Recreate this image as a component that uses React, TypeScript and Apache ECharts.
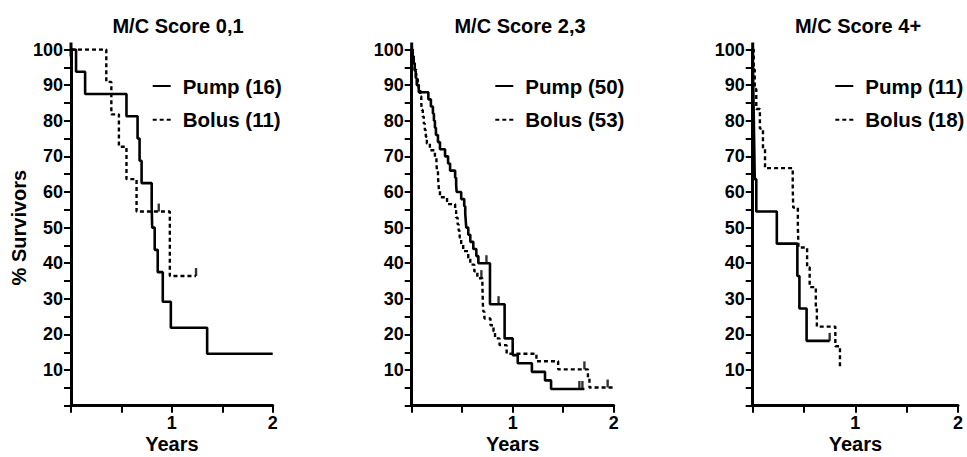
import React, { useEffect, useRef } from "react";
import * as echarts from "echarts";

// ---- data ----
const titles = ["M/C Score 0,1", "M/C Score 2,3", "M/C Score 4+"];
const pumpNames = ["Pump (16)", "Pump (50)", "Pump (11)"];
const bolusNames = ["Bolus (11)", "Bolus (53)", "Bolus (18)"];
const xLabelValues = [1, 2];
const yLabelStep = 10;

const pump1 = [[0, 100], [0.05, 93.75], [0.14, 87.5], [0.55, 81.25], [0.66, 75], [0.68, 68.75], [0.7, 62.5], [0.8, 56.25], [0.805, 50], [0.83, 43.75], [0.86, 37.5], [0.91, 29.2], [0.99, 21.9], [1.35, 14.6], [2.0, 14.6]];
const bolus1 = [[0, 100], [0.35, 90.9], [0.4, 81.8], [0.475, 72.7], [0.55, 63.6], [0.65, 54.5], [0.98, 36.4], [1.24, 36.4]];

const pump2 = [[0, 100], [0.01, 98], [0.02, 96], [0.03, 94], [0.04, 92], [0.05, 90], [0.07, 88], [0.165, 86], [0.19, 84], [0.21, 82], [0.22, 80], [0.23, 78], [0.24, 76], [0.26, 74], [0.28, 72], [0.33, 70], [0.36, 68], [0.38, 66], [0.43, 64], [0.44, 62], [0.445, 60], [0.49, 58], [0.52, 56], [0.53, 54], [0.535, 52], [0.54, 50], [0.56, 48], [0.58, 46], [0.61, 44], [0.64, 42], [0.66, 40], [0.775, 28.5], [0.92, 18.9], [1.0, 14.2], [1.05, 11.9], [1.19, 9.5], [1.32, 7.1], [1.38, 4.7], [1.71, 4.7]];
const bolus2 = [[0, 100], [0.01, 98.1], [0.02, 96.2], [0.03, 94.3], [0.045, 92.5], [0.06, 90.6], [0.07, 88.7], [0.085, 86.8], [0.095, 84.9], [0.1, 83], [0.11, 81.1], [0.12, 79.2], [0.13, 77.4], [0.14, 75.5], [0.15, 73.6], [0.18, 71.7], [0.23, 69.8], [0.245, 67.9], [0.25, 66], [0.26, 64.2], [0.265, 62.3], [0.27, 60.4], [0.28, 58.5], [0.35, 56.6], [0.43, 54.7], [0.44, 52.8], [0.455, 50.9], [0.465, 49.1], [0.475, 47.2], [0.49, 45.3], [0.51, 43.4], [0.56, 41.5], [0.58, 39.6], [0.62, 37.7], [0.65, 35.8], [0.7, 33.9], [0.705, 28.3], [0.71, 26.4], [0.72, 24.5], [0.78, 22.6], [0.81, 20.8], [0.825, 18.9], [0.87, 17], [0.94, 14.6], [1.235, 12.5], [1.45, 10.2], [1.745, 7.6], [1.76, 5.1], [2.0, 5.1]];

const pump3 = [[0, 100], [0.005, 90.9], [0.01, 81.8], [0.015, 72.7], [0.02, 63.6], [0.035, 54.5], [0.235, 45.5], [0.435, 36.4], [0.455, 27.3], [0.525, 18.2], [0.75, 18.2]];
const bolus3 = [[0, 100], [0.01, 94.4], [0.02, 88.9], [0.035, 83.3], [0.07, 77.8], [0.1, 72.2], [0.12, 66.7], [0.39, 61.1], [0.395, 55.6], [0.44, 50], [0.446, 44.4], [0.53, 38.9], [0.555, 33.3], [0.615, 27.8], [0.625, 22.2], [0.805, 16.7], [0.85, 11.1]];

const censor1Bolus = [[0.87, 54.5], [1.24, 36.4]];
const censor2Pump = [[0.74, 40], [0.86, 28.5], [1.66, 4.7], [1.69, 4.7]];
const censor2Bolus = [[0.69, 35.8], [1.71, 10.2], [1.94, 5.1]];
const censor3Pump = [[0.75, 18.2]];

const pumps = [pump1, pump2, pump3];
const boluses = [bolus1, bolus2, bolus3];
const censors = [
  [censor1Bolus],
  [censor2Pump, censor2Bolus],
  [censor3Pump],
];

// ---- layout ----
const FONT = "'Liberation Sans', Arial, Helvetica, sans-serif";
const gridLefts = [71, 411.7, 752.7];
const gridWidths = [201.7, 202, 205.3];
const titleCenters = [178, 520, 858];
const legendLefts = [151.7, 494.3, 834.3];

export default function App() {
  const ref = useRef<HTMLDivElement>(null);

  useEffect(() => {
    document.body.style.margin = "0";
    const chart = echarts.init(ref.current!, null, { renderer: "svg" });

    const grid = gridLefts.map((l, i) => ({
      left: l,
      top: 49.5,
      width: gridWidths[i],
      height: 356.2,
      containLabel: false,
      outerBoundsMode: "none",
    }));

    const xAxis = gridLefts.map((_, i) => ({
      type: "value",
      gridIndex: i,
      min: 0,
      max: 2,
      interval: 0.5,
      name: "Years",
      nameLocation: "middle",
      nameGap: 28,
      nameMoveOverlap: false,
      nameTextStyle: { fontSize: 20, lineHeight: 20, fontWeight: "bold", color: "#000", fontFamily: FONT },
      axisLine: { show: true, lineStyle: { color: "#000", width: 3 } },
      axisTick: { show: true, length: 7, lineStyle: { color: "#000", width: 2 } },
      axisLabel: {
        margin: 9,
        fontSize: 18,
        lineHeight: 16,
        fontWeight: "bold",
        color: "#000",
        fontFamily: FONT,
        formatter: (v: number) => (xLabelValues.includes(v) ? String(v) : ""),
      },
      splitLine: { show: false },
    }));

    const yAxis = gridLefts.map((_, i) => ({
      type: "value",
      gridIndex: i,
      min: 0,
      max: 100,
      interval: 5,
      name: i === 0 ? "% Survivors" : "",
      nameLocation: "middle",
      nameGap: 42,
      nameMoveOverlap: false,
      nameTextStyle: { fontSize: 20, fontWeight: "bold", color: "#000", fontFamily: FONT },
      axisLine: {
        show: true,
        lineStyle: { color: "#000", width: 3 },
        symbol: ["none", "rect"],
        symbolSize: [3, 14],
      },
      axisTick: { show: true, length: 7, lineStyle: { color: "#000", width: 2 } },
      axisLabel: {
        margin: 8,
        fontSize: 18,
        fontWeight: "bold",
        color: "#000",
        fontFamily: FONT,
        formatter: (v: number) => (v > 0 && v % yLabelStep === 0 ? String(v) : ""),
      },
      splitLine: { show: false },
    }));

    const series: any[] = [];
    for (let i = 0; i < 3; i++) {
      series.push({
        name: pumpNames[i],
        type: "line",
        xAxisIndex: i,
        yAxisIndex: i,
        step: "end",
        symbol: "none",
        data: pumps[i],
        lineStyle: { color: "#000", width: 2.6, type: "solid" },
        itemStyle: { color: "#000" },
      });
      series.push({
        name: bolusNames[i],
        type: "line",
        xAxisIndex: i,
        yAxisIndex: i,
        step: "end",
        symbol: "none",
        data: boluses[i],
        lineStyle: { color: "#000", width: 2.4, type: [4, 3] },
        itemStyle: { color: "#000" },
      });
      censors[i].forEach((c, k) => {
        series.push({
          name: "censor-" + i + "-" + k,
          type: "scatter",
          xAxisIndex: i,
          yAxisIndex: i,
          symbol: "rect",
          symbolSize: [2.4, 8],
          symbolOffset: [0, -4],
          data: c,
          itemStyle: { color: "#000" },
          silent: true,
        });
      });
    }

    const option = {
      animation: false,
      backgroundColor: "#fff",
      textStyle: { fontFamily: FONT },
      title: titles.map((t, i) => ({
        text: t,
        left: titleCenters[i],
        top: 16,
        padding: 0,
        textAlign: "center",
        textStyle: { fontSize: 20, fontWeight: "bold", color: "#000", fontFamily: FONT },
      })),
      legend: legendLefts.map((l, i) => ({
        data: [pumpNames[i], bolusNames[i]],
        orient: "vertical",
        left: l,
        top: 75.5,
        padding: 0,
        itemWidth: 18,
        itemHeight: 14,
        itemGap: 12.8,
        selectedMode: false,
        itemStyle: { opacity: 0 },
        textStyle: { fontSize: 20.5, fontWeight: "bold", color: "#000", fontFamily: FONT, padding: [0, 0, 0, 7] },
      })),
      grid,
      xAxis,
      yAxis,
      series,
    };

    chart.setOption(option as any);
    return () => chart.dispose();
  }, []);

  return <div ref={ref} style={{ width: 967, height: 457 }} />;
}
